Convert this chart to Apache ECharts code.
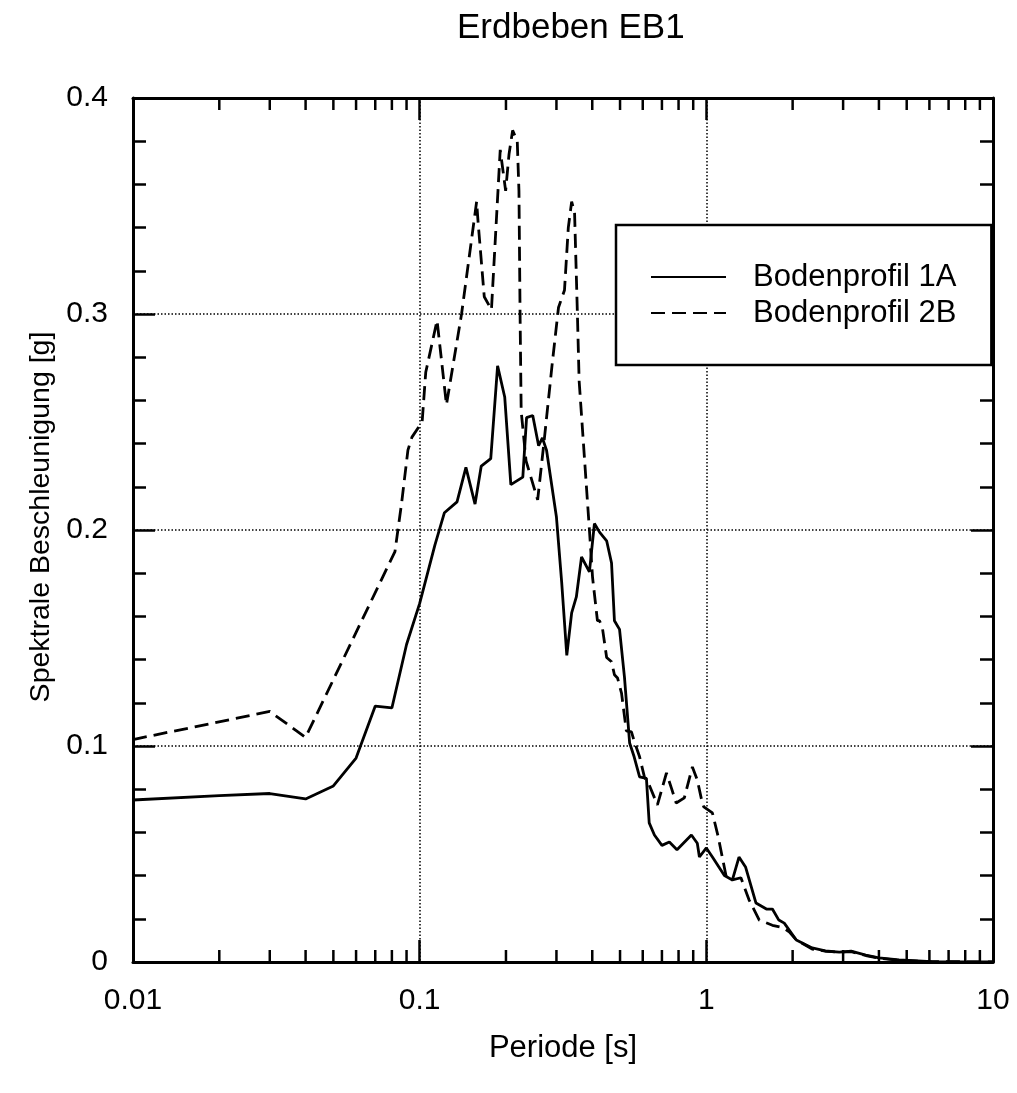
<!DOCTYPE html>
<html>
<head>
<meta charset="utf-8">
<title>Erdbeben EB1</title>
<script src="https://cdn.jsdelivr.net/npm/echarts@6/dist/echarts.min.js"></script>
<style>
  html, body { margin: 0; padding: 0; background: #ffffff; }
  #chart { width: 1017px; height: 1093px; }
</style>
</head>
<body>
<div id="chart"></div>
<script>
// Response spectrum, earthquake EB1: period [s] vs. spectral acceleration [g]

const periods1A = [0.01, 0.02, 0.03, 0.04, 0.05, 0.06, 0.07, 0.08, 0.09, 0.1,
  0.113, 0.122, 0.135, 0.145, 0.156, 0.164, 0.177, 0.187, 0.198, 0.208,
  0.229, 0.236, 0.248, 0.26, 0.268, 0.277, 0.30, 0.313, 0.326, 0.339,
  0.352, 0.367, 0.391, 0.407, 0.424, 0.449, 0.467, 0.478, 0.498, 0.518,
  0.54, 0.56, 0.585, 0.618, 0.632, 0.659, 0.70, 0.743, 0.79, 0.887,
  0.93, 0.946, 1.0, 1.05, 1.156, 1.233, 1.30, 1.37, 1.49, 1.62,
  1.70, 1.79, 1.87, 2.06, 2.34, 2.6, 2.91, 3.2, 3.6, 4.0,
  4.7, 6.1, 10];
const accel1A = [0.075, 0.077, 0.078, 0.0755, 0.0815, 0.0944, 0.1185, 0.1176, 0.147, 0.166,
  0.193, 0.208, 0.213, 0.229, 0.212, 0.2296, 0.233, 0.276, 0.2616, 0.221,
  0.2245, 0.252, 0.253, 0.239, 0.2426, 0.237, 0.206, 0.1755, 0.142, 0.1616,
  0.169, 0.1875, 0.1806, 0.203, 0.199, 0.195, 0.1847, 0.158, 0.154, 0.132,
  0.1014, 0.095, 0.0857, 0.085, 0.0644, 0.0588, 0.054, 0.0556, 0.052, 0.0588,
  0.055, 0.0486, 0.0528, 0.0486, 0.040, 0.038, 0.0486, 0.044, 0.0273, 0.0245,
  0.0245, 0.0194, 0.018, 0.0102, 0.0065, 0.0051, 0.0046, 0.005, 0.0032, 0.0019,
  0.001, 0.0002, 0.0];

const periods2B = [0.01, 0.03, 0.04, 0.082, 0.0865, 0.091, 0.094, 0.102, 0.105, 0.115,
  0.124, 0.14, 0.158, 0.16, 0.168, 0.178, 0.191, 0.1995, 0.205, 0.211,
  0.219, 0.222, 0.224, 0.226, 0.235, 0.258, 0.272, 0.29, 0.305, 0.32,
  0.33, 0.339, 0.347, 0.355, 0.36, 0.391, 0.401, 0.417, 0.424, 0.434,
  0.449, 0.467, 0.478, 0.49, 0.506, 0.526, 0.548, 0.561, 0.585, 0.608,
  0.632, 0.675, 0.726, 0.755, 0.785, 0.838, 0.894, 0.93, 0.968, 0.98,
  1.05, 1.10, 1.175, 1.233, 1.32, 1.41, 1.53, 1.70, 1.84, 1.95,
  2.06, 2.34, 2.6, 2.91, 3.2, 3.6, 4.0, 4.7, 6.1, 10];
const accel2B = [0.103, 0.116, 0.104, 0.190, 0.2125, 0.237, 0.243, 0.250, 0.273, 0.297,
  0.258, 0.300, 0.352, 0.342, 0.308, 0.302, 0.376, 0.357, 0.374, 0.385,
  0.380, 0.357, 0.300, 0.255, 0.232, 0.214, 0.2417, 0.277, 0.303, 0.311,
  0.340, 0.352, 0.347, 0.300, 0.269, 0.200, 0.178, 0.158, 0.158, 0.1546,
  0.141, 0.139, 0.133, 0.1315, 0.1245, 0.107, 0.1065, 0.102, 0.095, 0.0857,
  0.082, 0.0727, 0.0875, 0.0806, 0.0736, 0.076, 0.0903, 0.0843, 0.0736, 0.0718,
  0.069, 0.058, 0.039, 0.038, 0.039, 0.0287, 0.0194, 0.017, 0.016, 0.0139,
  0.0102, 0.006, 0.005, 0.0045, 0.0048, 0.003, 0.0018, 0.0008, 0.0002, 0.0];

const seriesNames = ['Bodenprofil 1A', 'Bodenprofil 2B'];
const xTickLabels = ['0.01', '0.1', '1', '10'];
const yTickLabels = ['0', '0.1', '0.2', '0.3', '0.4'];
// logarithmic minor tick positions between the decades
const xMinorTicks = [0.02, 0.03, 0.04, 0.05, 0.06, 0.07, 0.08, 0.09,
  0.2, 0.3, 0.4, 0.5, 0.6, 0.7, 0.8, 0.9,
  2, 3, 4, 5, 6, 7, 8, 9];

const FONT = '"Liberation Sans", Arial, Helvetica, sans-serif';
const INK = '#000000';

function pairs(xs, ys) { return xs.map((x, i) => [x, ys[i]]); }

const chart = echarts.init(document.getElementById('chart'), null, { renderer: 'canvas' });

const xLabel = v => xTickLabels[Math.round(Math.log10(v)) + 2] || '';
const yLabel = v => yTickLabels[Math.round(v * 10)] || '';

const commonX = {
  type: 'log', logBase: 10, min: 0.01, max: 10,
  axisLine: { show: true, onZero: false, lineStyle: { color: INK, width: 3 } },
  axisTick: { show: true, inside: true, length: 22, lineStyle: { color: INK, width: 2.5 } },
};
const commonY = {
  type: 'value', min: 0, max: 0.4, interval: 0.1,
  axisLine: { show: true, onZero: false, lineStyle: { color: INK, width: 3 } },
  axisTick: { show: true, inside: true, length: 22, lineStyle: { color: INK, width: 2.5 } },
  minorTick: { show: true, splitNumber: 5, length: 13, lineStyle: { color: INK, width: 2.5 } },
};

chart.setOption({
  animation: false,
  backgroundColor: '#ffffff',
  title: {
    text: 'Erdbeben EB1',
    left: 452, top: 6,
    textStyle: { fontFamily: FONT, fontSize: 35, fontWeight: 'normal', color: INK }
  },
  grid: { left: 133, right: 24, top: 98, bottom: 131, containLabel: false },
  legend: {
    data: seriesNames,
    orient: 'vertical',
    left: 616, top: 225,
    padding: [34, 35, 34, 34],
    itemGap: 0,
    itemWidth: 75, itemHeight: 14,
    borderColor: INK, borderWidth: 2.5,
    backgroundColor: '#ffffff',
    selectedMode: false,
    z: 10,
    itemStyle: { opacity: 0, borderWidth: 0 },
    textStyle: { fontFamily: FONT, fontSize: 31, color: INK, lineHeight: 36, padding: [0, 0, 0, 22] }
  },
  xAxis: [
    Object.assign({}, commonX, {
      position: 'bottom',
      name: 'Periode [s]', nameLocation: 'middle', nameGap: 71,
      nameTextStyle: { fontFamily: FONT, fontSize: 31, color: INK },
      axisLabel: { show: true, margin: 24, formatter: xLabel, fontFamily: FONT, fontSize: 30, color: INK },
      splitLine: { show: true, lineStyle: { color: INK, width: 1.5, type: [1.5, 2] } }
    }),
    Object.assign({}, commonX, {
      position: 'top',
      axisLabel: { show: false },
      splitLine: { show: false }
    })
  ],
  yAxis: [
    Object.assign({}, commonY, {
      position: 'left',
      name: 'Spektrale Beschleunigung [g]', nameLocation: 'middle', nameGap: 70,
      nameTextStyle: { fontFamily: FONT, fontSize: 28.5, color: INK, padding: [0, 0, 0, 26] },
      axisLabel: { show: true, margin: 25, formatter: yLabel, fontFamily: FONT, fontSize: 30, color: INK },
      splitLine: { show: true, lineStyle: { color: INK, width: 1.5, type: [1.5, 2] } }
    }),
    Object.assign({}, commonY, {
      position: 'right',
      axisLabel: { show: false },
      splitLine: { show: false }
    })
  ],
  series: [
    {
      name: seriesNames[0], type: 'line',
      data: pairs(periods1A, accel1A),
      showSymbol: false, symbol: 'none', smooth: false,
      lineStyle: { color: INK, width: 2.8, type: 'solid' },
      itemStyle: { color: INK },
      z: 3
    },
    {
      name: seriesNames[1], type: 'line',
      data: pairs(periods2B, accel2B),
      showSymbol: false, symbol: 'none', smooth: false,
      lineStyle: { color: INK, width: 2.8, type: [14, 7] },
      itemStyle: { color: INK },
      z: 3
    },
    {
      // minor ticks of the logarithmic period axis, bottom and top edge
      name: 'minorTicksX', type: 'custom',
      data: xMinorTicks.map(v => [v]),
      encode: { x: 0 },
      silent: true,
      clip: false,
      renderItem: function (params, api) {
        const v = api.value(0);
        const pb = api.coord([v, 0]);
        const pt = api.coord([v, 0.4]);
        const st = { stroke: INK, lineWidth: 2.5 };
        return {
          type: 'group',
          children: [
            { type: 'line', shape: { x1: pb[0], y1: pb[1], x2: pb[0], y2: pb[1] - 12 }, style: st },
            { type: 'line', shape: { x1: pt[0], y1: pt[1], x2: pt[0], y2: pt[1] + 12 }, style: st }
          ]
        };
      },
      z: 4
    }
  ]
});
</script>
</body>
</html>
